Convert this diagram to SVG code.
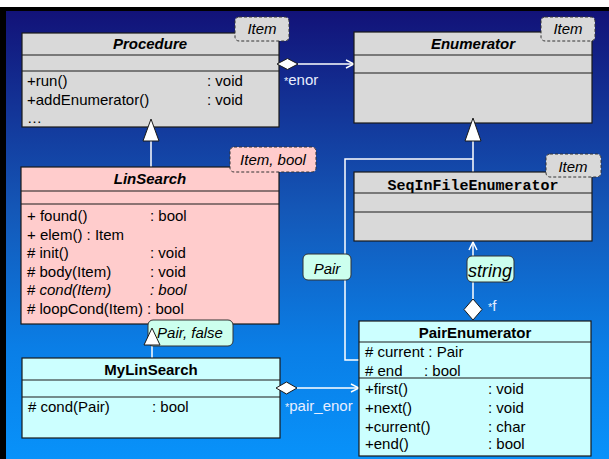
<svg xmlns="http://www.w3.org/2000/svg" width="609" height="459" viewBox="0 0 609 459">
  <defs>
    <linearGradient id="bg" x1="0" y1="0" x2="0" y2="1">
      <stop offset="0" stop-color="#121278"/>
      <stop offset="0.45" stop-color="#1458b8"/>
      <stop offset="0.75" stop-color="#0a7ee6"/>
      <stop offset="1" stop-color="#0892fa"/>
    </linearGradient>
    <marker id="open" viewBox="0 0 10 10" refX="9" refY="5" markerWidth="10" markerHeight="10" markerUnits="userSpaceOnUse" orient="auto">
      <path d="M1,1 L9,5 L1,9" fill="none" stroke="#ffffff" stroke-width="1.5"/>
    </marker>
  </defs>
  <style>
    .box { stroke: #1a1a1a; stroke-width: 1.2; }
    .sep { stroke: #1a1a1a; stroke-width: 1.2; }
    .gray { fill: #d9d9d9; }
    .pink { fill: #ffcccc; }
    .cyan { fill: #ccffff; }
    .tag { stroke: #333; stroke-width: 1; stroke-dasharray: 3 2; }
    .mint { fill: #ccffee; stroke: #333; stroke-width: 1; }
    text { font-family: "Liberation Sans", Arial, sans-serif; fill: #000; }
    .name { font-size: 15px; font-weight: bold; text-anchor: middle; }
    .abs { font-style: italic; }
    .mono { font-family: "Liberation Mono", "Courier New", monospace; font-size: 15px; font-weight: bold; text-anchor: middle; }
    .mem { font-size: 15px; }
    .it { font-style: italic; font-size: 15px; text-anchor: middle; }
    .role { font-size: 15px; fill: #e8eeff; }
    .conn { stroke: #ffffff; stroke-width: 1.5; fill: none; }
    .gen { fill: #ffffff; stroke: #1a1a1a; stroke-width: 1; }
    .dia { fill: #ffffff; stroke: #1a1a1a; stroke-width: 1; }
  </style>

  <!-- page background and frame -->
  <rect x="0" y="0" width="609" height="459" fill="#ffffff"/>
  <rect x="0" y="7" width="609" height="452" fill="#000000"/>
  <rect x="6" y="11" width="603" height="448" fill="url(#bg)"/>

  <!-- connectors -->
  <g id="connectors">
    <!-- Procedure *enor -> Enumerator -->
    <line class="conn" x1="298" y1="64" x2="354" y2="64" stroke="#f6f6e4" marker-end="url(#open)"/>
    <!-- LinSearch generalizes Procedure -->
    <line class="conn" x1="151" y1="141" x2="151" y2="167"/>
    <!-- MyLinSearch generalizes LinSearch -->
    <line class="conn" x1="152" y1="345" x2="152" y2="358"/>
    <!-- SeqInFileEnumerator and PairEnumerator generalize Enumerator -->
    <line class="conn" x1="473" y1="141" x2="473" y2="172"/>
    <polyline class="conn" points="473,159 345,159 345,360 359,360"/>
    <!-- PairEnumerator *f -> SeqInFileEnumerator -->
    <line class="conn" x1="473" y1="299" x2="473" y2="242" marker-end="url(#open)"/>
    <!-- MyLinSearch *pair_enor -> PairEnumerator -->
    <line class="conn" x1="297" y1="388" x2="359" y2="388" marker-end="url(#open)"/>
  </g>

  <!-- Procedure -->
  <g id="procedure">
    <rect class="box gray" x="22" y="33" width="257" height="94"/>
    <line class="sep" x1="22" y1="55" x2="279" y2="55"/>
    <line class="sep" x1="22" y1="71" x2="279" y2="71"/>
    <text class="name abs" x="150" y="49">Procedure</text>
    <text class="mem" x="27" y="86">+run()</text>
    <text class="mem" x="207" y="86">:  void</text>
    <text class="mem" x="27" y="105">+addEnumerator()</text>
    <text class="mem" x="207" y="105">:  void</text>
    <text class="mem" x="27" y="123">…</text>
    <rect class="tag gray" x="235" y="17" width="54" height="24" rx="4"/>
    <text class="it" x="262" y="34">Item</text>
  </g>

  <!-- Enumerator -->
  <g id="enumerator">
    <rect class="box gray" x="354" y="32" width="238" height="91"/>
    <line class="sep" x1="354" y1="55" x2="593" y2="55"/>
    <line class="sep" x1="354" y1="73" x2="593" y2="73"/>
    <text class="name abs" x="473" y="49">Enumerator</text>
    <rect class="tag gray" x="541" y="17" width="54" height="24" rx="4"/>
    <text class="it" x="568" y="34">Item</text>
  </g>

  <!-- LinSearch -->
  <g id="linsearch">
    <rect class="box pink" x="21" y="167" width="258" height="157"/>
    <line class="sep" x1="21" y1="191" x2="279" y2="191"/>
    <line class="sep" x1="21" y1="204" x2="279" y2="204"/>
    <text class="name abs" x="150" y="184">LinSearch</text>
    <text class="mem" x="27" y="221">+ found()</text>
    <text class="mem" x="150" y="221">: bool</text>
    <text class="mem" x="27" y="240">+ elem() : Item</text>
    <text class="mem" x="27" y="258"># init()</text>
    <text class="mem" x="150" y="258">: void</text>
    <text class="mem" x="27" y="277"># body(Item)</text>
    <text class="mem" x="150" y="277">: void</text>
    <text class="mem" x="27" y="295"># <tspan font-style="italic">cond(Item)</tspan></text>
    <text class="mem" x="150" y="295" font-style="italic">: bool</text>
    <text class="mem" x="27" y="314"># loopCond(Item) : bool</text>
    <rect class="tag pink" x="230" y="147" width="86" height="25" rx="4"/>
    <text class="it" x="273" y="165">Item, bool</text>
  </g>

  <!-- SeqInFileEnumerator -->
  <g id="seqinfileenumerator">
    <rect class="box gray" x="354" y="172" width="238" height="69"/>
    <line class="sep" x1="354" y1="193" x2="592" y2="193"/>
    <line class="sep" x1="354" y1="212" x2="592" y2="212"/>
    <text class="mono" x="473" y="190">SeqInFileEnumerator</text>
    <rect class="tag gray" x="546" y="154" width="55" height="23" rx="4"/>
    <text class="it" x="573" y="172">Item</text>
  </g>

  <!-- MyLinSearch -->
  <g id="mylinsearch">
    <rect class="box cyan" x="22" y="358" width="258" height="80"/>
    <line class="sep" x1="22" y1="380" x2="280" y2="380"/>
    <line class="sep" x1="22" y1="397" x2="280" y2="397"/>
    <text class="name" x="151" y="375">MyLinSearch</text>
    <text class="mem" x="28" y="412"># cond(Pair)</text>
    <text class="mem" x="152" y="412">: bool</text>
  </g>

  <!-- PairEnumerator -->
  <g id="pairenumerator">
    <rect class="box cyan" x="359" y="321" width="232" height="135"/>
    <line class="sep" x1="359" y1="342" x2="591" y2="342"/>
    <line class="sep" x1="359" y1="378" x2="591" y2="378"/>
    <text class="name" x="475" y="338">PairEnumerator</text>
    <text class="mem" x="365" y="357"># current : Pair</text>
    <text class="mem" x="365" y="376"># end</text>
    <text class="mem" x="424" y="376">: bool</text>
    <text class="mem" x="365" y="394">+first()</text>
    <text class="mem" x="488" y="394">: void</text>
    <text class="mem" x="365" y="413">+next()</text>
    <text class="mem" x="488" y="413">: void</text>
    <text class="mem" x="365" y="432">+current()</text>
    <text class="mem" x="488" y="432">: char</text>
    <text class="mem" x="365" y="449">+end()</text>
    <text class="mem" x="488" y="449">: bool</text>
  </g>

  <!-- binding labels, role names and connector ends -->
  <g id="labels">
    <rect class="mint" x="303" y="254" width="48" height="26" rx="5"/>
    <text class="it" x="327" y="274" font-size="16">Pair</text>
    <rect class="mint" x="467" y="256" width="47" height="26" rx="5"/>
    <text x="490" y="277" text-anchor="middle" font-family="Liberation Serif, Times New Roman, serif" font-style="italic" font-size="18">string</text>
    <rect class="mint" x="148" y="320" width="85" height="26" rx="5"/>
    <text class="it" x="190" y="338">Pair, false</text>

    <text class="role" x="284" y="85"><tspan font-size="11">*</tspan>enor</text>
    <text class="role" x="488" y="311"><tspan font-size="11">*</tspan>f</text>
    <text class="role" x="285" y="411"><tspan font-size="11">*</tspan>pair_enor</text>

    <path class="dia" d="M277,64 L287.5,58.5 L298,64 L287.5,69.5 Z"/>
    <path class="dia" d="M276,388 L286.5,382 L297,388 L286.5,394 Z"/>
    <path class="dia" d="M473,299 L482,309.5 L473,320 L464,309.5 Z"/>

    <path class="gen" d="M151,119 L159,141 L143,141 Z"/>
    <path class="gen" d="M152,328 L160,345 L144,345 Z"/>
    <path class="gen" d="M473,118 L481,141 L465,141 Z"/>
  </g>
</svg>
